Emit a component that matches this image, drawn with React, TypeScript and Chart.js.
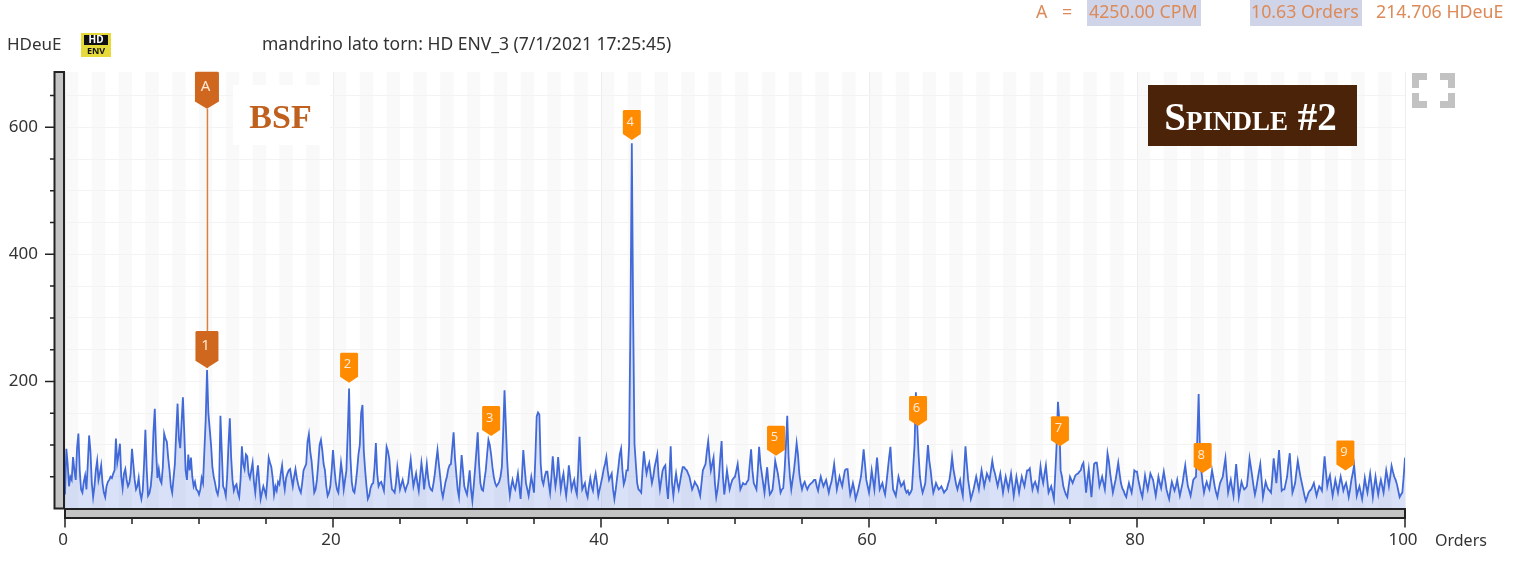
import React, { useEffect, useRef } from "react";
import { Chart, registerables } from "chart.js";

Chart.register(...registerables);

const stepOrders = 0.1;
const spectrum00to09 = [
  22,94,70,35,50,45,81,60,45,95,
  118,60,30,25,42,52,30,70,115,90,
  40,18,35,60,75,45,55,68,40,25,
  18,35,42,45,50,48,55,60,110,72,
  85,102,50,32,55,62,45,35,40,55,
  94,70,45,30,35,48,25,15,28,70,
  124,60,20,24,35,60,120,157,90,48,
  62,45,40,65,118,110,105,80,60,35,
  25,48,70,120,165,110,95,135,175,120,
  60,45,85,60,80,50,35,42,30,28,
];
const spectrum10to19 = [
  22,30,48,40,90,140,218,150,125,100,
  65,50,40,28,22,35,146,90,35,30,
  20,50,100,142,80,45,28,35,38,25,
  18,45,98,70,62,85,82,55,48,60,
  72,42,25,50,68,40,15,25,35,28,
  20,45,80,72,65,48,22,35,28,42,
  38,55,68,45,30,48,55,60,62,48,
  35,50,62,48,38,30,25,40,60,65,
  70,105,117,90,75,50,25,30,45,70,
  100,108,92,70,60,35,20,25,35,60,
];
const spectrum20to29 = [
  92,65,42,30,25,48,72,55,30,45,
  60,120,189,80,42,28,25,40,60,85,
  100,150,163,90,60,35,15,20,32,38,
  40,65,103,55,35,40,42,35,28,60,
  97,90,78,50,30,28,25,40,65,48,
  30,38,45,35,28,35,40,60,77,55,
  35,45,55,40,28,50,72,55,30,50,
  70,48,35,30,28,40,55,75,92,70,
  50,28,18,30,42,50,62,68,70,95,
  120,80,55,30,18,50,84,60,35,28,
];
const spectrum30to39 = [
  22,40,60,30,12,35,62,90,120,70,
  40,30,28,45,60,85,108,100,85,65,
  50,40,35,38,42,50,65,120,186,130,
  75,40,20,35,45,35,30,42,55,35,
  15,50,92,65,40,30,20,35,50,38,
  25,80,145,151,148,70,45,38,50,58,
  58,40,25,50,82,55,35,50,81,55,
  30,45,55,35,20,40,68,50,30,38,
  45,30,22,60,113,60,30,35,40,25,
  18,35,48,35,28,45,55,40,20,30,
];
const spectrum40to49 = [
  40,50,62,70,81,60,45,50,55,30,
  15,30,48,65,85,94,60,38,45,60,
  60,100,300,575,300,102,70,40,30,28,
  25,60,90,70,55,65,72,55,40,50,
  65,75,85,50,30,45,60,65,68,35,
  15,50,98,40,20,40,55,40,30,42,
  55,65,65,62,60,55,50,40,30,35,
  42,38,35,28,20,40,60,65,70,90,
  106,80,60,70,80,40,18,30,50,80,
  106,50,22,40,60,45,30,38,45,48,
];
const spectrum50to59 = [
  50,60,70,50,30,35,40,38,38,42,
  45,70,93,60,40,35,30,60,97,70,
  55,40,25,45,65,40,22,25,30,50,
  75,65,55,40,25,30,32,60,100,146,
  80,50,30,45,60,80,103,85,55,40,
  30,38,42,35,30,35,38,40,42,45,
  45,35,28,40,50,42,35,40,45,35,
  25,35,42,55,70,50,30,40,50,42,
  35,48,60,62,62,40,22,30,40,30,
  15,22,30,40,50,70,93,70,45,35,
];
const spectrum60to69 = [
  25,40,60,45,30,55,80,55,30,35,
  40,30,22,40,60,80,97,60,30,25,
  20,35,50,42,35,38,42,30,25,28,
  22,25,30,65,100,183,130,85,50,35,
  25,32,40,70,100,75,60,40,25,32,
  40,35,30,32,35,30,25,28,30,38,
  45,60,81,62,50,38,30,38,45,30,
  20,60,98,70,45,30,15,22,30,40,
  50,40,30,45,60,48,35,45,55,50,
  45,60,75,62,55,45,35,45,55,40,
];
const spectrum70to79 = [
  25,38,50,40,30,42,55,38,20,35,
  50,38,25,38,50,42,35,48,60,60,
  63,45,30,38,42,35,28,45,66,50,
  40,55,68,45,25,30,35,25,15,55,
  100,168,140,60,50,35,28,22,18,35,
  50,45,40,46,52,54,55,58,60,68,
  72,50,25,45,62,40,18,45,70,72,
  72,55,35,42,50,40,30,55,87,75,
  55,40,25,35,45,58,72,55,40,32,
  28,22,18,30,40,32,25,40,60,58,
];
const spectrum80to89 = [
  58,45,35,25,18,35,52,40,30,42,
  55,50,45,32,20,35,50,40,32,45,
  58,45,30,22,15,30,42,35,28,35,
  45,32,20,30,40,55,68,50,35,28,
  20,32,45,48,50,110,180,90,60,40,
  25,35,42,35,30,45,60,48,35,25,
  18,30,40,45,50,65,79,50,25,35,
  45,32,20,45,70,45,18,30,42,35,
  30,32,35,55,79,65,50,35,22,32,
  45,58,70,45,18,30,42,35,30,28,
];
const spectrum90to100 = [
  25,50,79,60,40,65,92,60,28,30,
  30,40,50,70,87,55,25,32,40,58,
  75,62,50,40,30,20,12,18,25,28,
  30,35,40,30,20,28,35,32,28,55,
  82,58,35,45,52,35,20,32,45,35,
  25,38,50,40,28,35,40,30,18,30,
  45,55,68,45,20,28,35,25,15,30,
  48,35,25,40,55,38,18,35,50,35,
  22,35,45,35,25,42,60,48,35,50,
  67,58,50,45,38,28,18,22,25,50,
  80,
];

const markerLabels = ["1", "2", "3", "4", "5", "6", "7", "8", "9"];
const markerOrders = [10.63, 21.2, 31.8, 42.3, 53.06, 63.66, 74.25, 84.9, 95.55];
const markerValues = [221, 198, 114, 580, 83, 130, 98, 56, 60];
const cursorOrder = 10.63;
const cursorValue = 629;
const yLabelValues = [200, 400, 600];
const xLabelValues = [0, 20, 40, 60, 80, 100];
const readout = ["A", "=", "4250.00 CPM", "10.63 Orders", "214.706 HDeuE"];
const unitY = "HDeuE";
const unitX = "Orders";
const title = "mandrino lato torn: HD ENV_3 (7/1/2021 17:25:45)";

const UI_FONT = '"Noto Sans", sans-serif';
const SERIF = '"Liberation Serif", serif';

const spectrum = [
  ...spectrum00to09, ...spectrum10to19, ...spectrum20to29, ...spectrum30to39, ...spectrum40to49,
  ...spectrum50to59, ...spectrum60to69, ...spectrum70to79, ...spectrum80to89, ...spectrum90to100,
];
const points = spectrum.map((y, i) => ({ x: i * stepOrders, y }));

function pin(ctx: CanvasRenderingContext2D, x: number, tipY: number, w: number, h: number, color: string, label: string, size: number) {
  const top = tipY - h;
  const sh = tipY - h * 0.2;
  ctx.fillStyle = color;
  ctx.beginPath();
  ctx.moveTo(x - w / 2, top + 1);
  ctx.lineTo(x - w / 2 + 1, top);
  ctx.lineTo(x + w / 2 - 1, top);
  ctx.lineTo(x + w / 2, top + 1);
  ctx.lineTo(x + w / 2, sh);
  ctx.lineTo(x, tipY);
  ctx.lineTo(x - w / 2, sh);
  ctx.closePath();
  ctx.fill();
  ctx.fillStyle = "#ffe9d2";
  ctx.font = `${size}px ${UI_FONT}`;
  ctx.textAlign = "center";
  ctx.textBaseline = "middle";
  ctx.fillText(label, x - 1.5, top + h * 0.4);
}

const bandsPlugin = {
  id: "bands",
  beforeDraw(chart: any) {
    const { ctx, chartArea: a, scales } = chart;
    ctx.save();
    ctx.fillStyle = "#f9f9f9";
    for (let k = 0; k < 100; k += 2) {
      const x0 = scales.x.getPixelForValue(k);
      const x1 = scales.x.getPixelForValue(k + 1);
      ctx.fillRect(x0, a.top, x1 - x0, a.bottom - a.top);
    }
    ctx.restore();
  },
};

const overlayPlugin = {
  id: "overlay",
  afterDraw(chart: any) {
    const { ctx, chartArea: a, scales } = chart;
    const sx = scales.x;
    const sy = scales.y;
    ctx.save();

    // axis bars
    ctx.fillStyle = "#c4c4c4";
    ctx.strokeStyle = "#222";
    ctx.lineWidth = 2;
    ctx.fillRect(54.5, a.top, 9.5, a.bottom - a.top);
    ctx.strokeRect(54.5, a.top, 9.5, a.bottom - a.top);
    ctx.fillRect(a.left, a.bottom + 0.5, a.right - a.left, 9);
    ctx.strokeRect(a.left, a.bottom + 0.5, a.right - a.left, 9);

    // axis ticks
    ctx.lineWidth = 1.5;
    ctx.beginPath();
    sy.ticks.forEach((t: any) => {
      if (t.value === 0) return;
      const y = sy.getPixelForValue(t.value);
      ctx.moveTo(t.value % 200 === 0 ? 45 : 50, y);
      ctx.lineTo(54.5, y);
    });
    sx.ticks.forEach((t: any) => {
      const x = sx.getPixelForValue(t.value);
      ctx.moveTo(x, a.bottom + 9.5);
      ctx.lineTo(x, a.bottom + (t.value % 20 === 0 ? 19 : 15.5));
    });
    ctx.stroke();

    // cursor
    const cx = sx.getPixelForValue(cursorOrder);
    const cy = sy.getPixelForValue(cursorValue);
    ctx.strokeStyle = "#d9803f";
    ctx.lineWidth = 1.5;
    ctx.beginPath();
    ctx.moveTo(cx, cy);
    ctx.lineTo(cx, sy.getPixelForValue(markerValues[0]));
    ctx.stroke();
    pin(ctx, cx - 0.5, cy, 24, 37, "#d0671f", "A", 15);

    // peak markers
    markerLabels.forEach((label, i) => {
      const x = sx.getPixelForValue(markerOrders[i]);
      const y = sy.getPixelForValue(markerValues[i]);
      if (i === 0) pin(ctx, x - 0.5, y, 23, 37, "#d0671f", label, 15);
      else pin(ctx, x, y, 18, 30, "#ff8c00", label, 13);
    });

    // BSF tag
    ctx.fillStyle = "#ffffff";
    ctx.fillRect(233, 85, 97, 60);
    ctx.fillStyle = "#c0601f";
    ctx.font = `bold 34px ${SERIF}`;
    ctx.textAlign = "center";
    ctx.textBaseline = "alphabetic";
    ctx.fillText("BSF", 280.5, 128);

    // Spindle tag
    ctx.fillStyle = "#4a2308";
    ctx.fillRect(1148, 85, 209, 61);
    ctx.fillStyle = "#ffffff";
    ctx.font = `small-caps bold 39px ${SERIF}`;
    ctx.textAlign = "center";
    ctx.fillText("Spindle #2", 1250.5, 130);

    // fullscreen icon
    ctx.fillStyle = "#c2c2c2";
    const corners: [number, number, number, number][] = [
      [1412, 73, 1, 1],
      [1455, 73, -1, 1],
      [1412, 108, 1, -1],
      [1455, 108, -1, -1],
    ];
    corners.forEach(([x, y, dx, dy]) => {
      ctx.fillRect(dx > 0 ? x : x - 15, dy > 0 ? y : y - 7, 15, 7);
      ctx.fillRect(dx > 0 ? x : x - 7, dy > 0 ? y : y - 15, 7, 15);
    });

    // header text
    ctx.textBaseline = "middle";
    ctx.textAlign = "left";
    ctx.fillStyle = "#d0d4e8";
    ctx.fillRect(1087, 0, 114, 26);
    ctx.fillRect(1250, 0, 112, 26);
    ctx.fillStyle = "#dc8a58";
    ctx.font = `17.8px ${UI_FONT}`;
    ctx.fillText(readout[0], 1036, 13);
    ctx.fillText(readout[1], 1062, 13);
    ctx.fillText(readout[2], 1089, 13);
    ctx.fillText(readout[3], 1251, 13);
    ctx.fillText(readout[4], 1376, 13);

    ctx.fillStyle = "#333";
    ctx.font = `17px ${UI_FONT}`;
    ctx.fillText(unitY, 7, 45);
    ctx.font = `17.5px ${UI_FONT}`;
    ctx.fillText(title, 262, 45);
    ctx.font = `16px ${UI_FONT}`;
    ctx.fillText(unitX, 1435, 541);

    // HD ENV badge
    ctx.fillStyle = "#e6d93a";
    ctx.fillRect(81, 33, 30, 24);
    ctx.fillStyle = "#111";
    ctx.fillRect(84, 35, 24, 10);
    ctx.textAlign = "center";
    ctx.fillStyle = "#fff";
    ctx.font = `bold 10px ${UI_FONT}`;
    ctx.fillText("HD", 96, 40);
    ctx.fillStyle = "#111";
    ctx.font = `bold 9px ${UI_FONT}`;
    ctx.fillText("ENV", 96, 51);

    ctx.restore();
  },
};

export default function App() {
  const ref = useRef<HTMLCanvasElement>(null);
  useEffect(() => {
    document.body.style.margin = "0";
    document.body.style.overflow = "hidden";
    const chart = new Chart(ref.current as HTMLCanvasElement, {
      type: "line",
      data: {
        datasets: [
          {
            data: points,
            parsing: false,
            borderColor: "#4169d8",
            borderWidth: 1.8,
            backgroundColor: "rgba(65,105,225,0.2)",
            fill: "origin",
            pointRadius: 0,
            tension: 0,
          },
        ],
      },
      options: {
        responsive: false,
        animation: false,
        devicePixelRatio: 1,
        layout: { padding: { top: 72, right: 130, left: 0, bottom: 0 } },
        plugins: { legend: { display: false }, tooltip: { enabled: false } },
        scales: {
          x: {
            type: "linear",
            min: 0,
            max: 100,
            afterFit: (s: any) => { s.height = 52.5; },
            border: { display: false },
            grid: {
              drawTicks: false,
              color: (c: any) => (c.tick && c.tick.value % 20 === 0 ? "#ededed" : "rgba(0,0,0,0)"),
            },
            ticks: {
              stepSize: 5,
              autoSkip: false,
              maxRotation: 0,
              padding: 21,
              labelOffset: -2,
              color: "#333",
              font: { family: UI_FONT, size: 17 },
              callback: (v: any) => (xLabelValues.includes(Number(v)) ? String(v) : ""),
            },
          },
          y: {
            type: "linear",
            min: 0,
            max: 687,
            afterFit: (s: any) => { s.width = 65; },
            border: { display: false },
            grid: {
              drawTicks: false,
              color: "#f3f3f3",
            },
            ticks: {
              stepSize: 50,
              includeBounds: false,
              autoSkip: false,
              padding: 27,
              color: "#333",
              font: { family: UI_FONT, size: 17 },
              callback: (v: any) => (yLabelValues.includes(Number(v)) ? String(v) : ""),
            },
          },
        },
      },
      plugins: [bandsPlugin, overlayPlugin],
    } as any);
    return () => chart.destroy();
  }, []);
  return <canvas ref={ref} width={1535} height={561} style={{ display: "block" }} />;
}
